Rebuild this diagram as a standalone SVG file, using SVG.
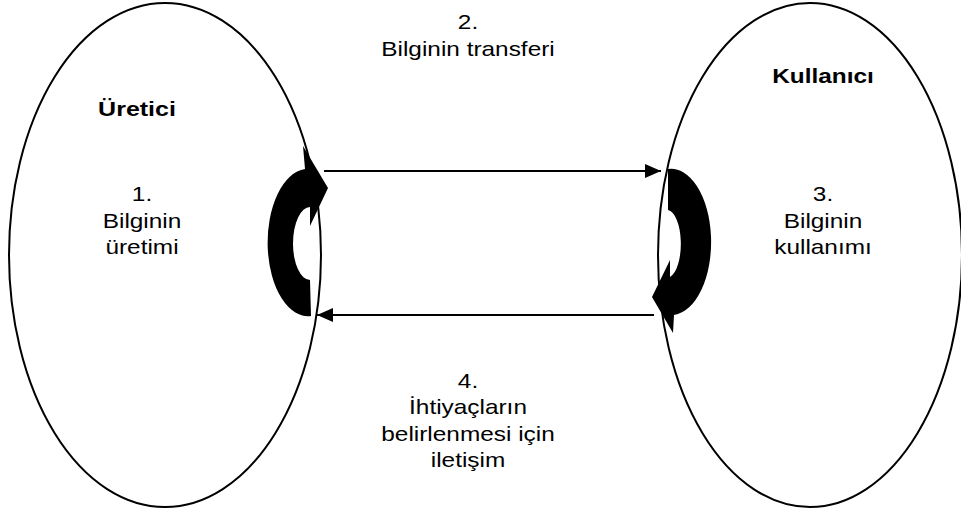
<svg xmlns="http://www.w3.org/2000/svg" width="961" height="514" viewBox="0 0 961 514">
<style>
.ell{fill:none;stroke:#000;stroke-width:2}
.t{font-family:"Liberation Sans",Arial,sans-serif;font-size:20px;fill:#000;text-anchor:middle}
.b{font-weight:bold}
.ln{stroke:#000;stroke-width:2.2;fill:none}
.cv{fill:#000;stroke:none}
</style>
<defs>
<marker id="ah" markerUnits="userSpaceOnUse" markerWidth="18" markerHeight="16" refX="16" refY="7" orient="auto">
<path d="M0,0 L16,7 L0,14 Z" fill="#000"/>
</marker>
</defs>
<g id="uretici">
<ellipse class="ell" cx="165" cy="255" rx="156" ry="252"/>
<text class="t b" transform="translate(137,116) scale(1.25,1)">Üretici</text>
<text class="t" transform="translate(142,201) scale(1.22,1)">1.</text>
<text class="t" transform="translate(142,228) scale(1.22,1)">Bilginin</text>
<text class="t" transform="translate(142,254) scale(1.22,1)">üretimi</text>
</g>
<g id="kullanici">
<ellipse class="ell" cx="810" cy="255" rx="152" ry="252"/>
<text class="t b" transform="translate(823,83) scale(1.22,1)">Kullanıcı</text>
<text class="t" transform="translate(823,201) scale(1.22,1)">3.</text>
<text class="t" transform="translate(823,228) scale(1.22,1)">Bilginin</text>
<text class="t" transform="translate(823,254) scale(1.22,1)">kullanımı</text>
</g>
<g id="transfer-label">
<text class="t" transform="translate(468,29) scale(1.22,1)">2.</text>
<text class="t" transform="translate(468,56) scale(1.22,1)">Bilginin transferi</text>
</g>
<g id="iletisim-label">
<text class="t" transform="translate(468,388) scale(1.22,1)">4.</text>
<text class="t" transform="translate(468,414) scale(1.22,1)">İhtiyaçların</text>
<text class="t" transform="translate(468,441) scale(1.22,1)">belirlenmesi için</text>
<text class="t" transform="translate(468,467) scale(1.22,1)">iletişim</text>
</g>
<g id="connectors">
<line class="ln" x1="324" y1="171" x2="661" y2="171" marker-end="url(#ah)"/>
<line class="ln" x1="654" y1="315" x2="317" y2="315" marker-end="url(#ah)"/>
<path class="cv" d="M311,316 A40 73 0 0 1 305,169 L303,146 L328,188 L310,226 L310,207 A17 36.5 0 0 0 310,280 Z"/>
<path class="cv" d="M668,169 A40 73 0 0 1 674,315 L673,333 L652,297 L670,260 L670,277 A14 34 0 0 0 668,210 Z"/>
</g>
</svg>
